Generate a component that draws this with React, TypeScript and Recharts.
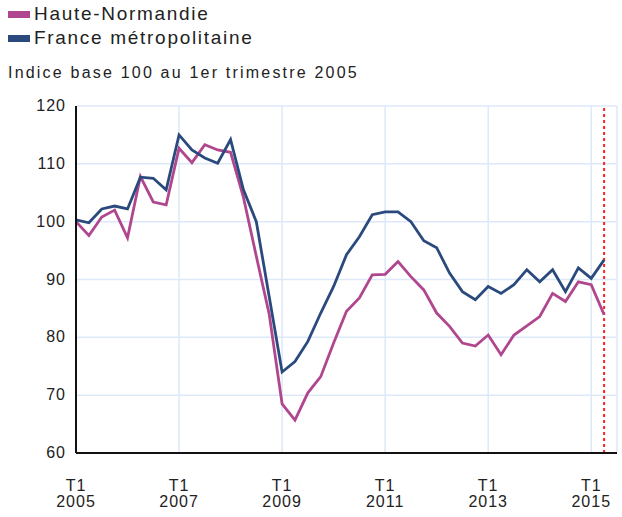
import React from "react";
import { LineChart, Line, XAxis, YAxis, CartesianGrid, ReferenceLine } from "recharts";

// quarterly index, base 100 at T1 2005 (T1 2005 .. T2 2015)
const hauteNormandie = [
  100, 97.6, 100.8, 102, 97.2, 107.8, 103.4, 102.9,
  112.7, 110.2, 113.3, 112.4, 112, 104.2, 94, 84,
  68.5, 65.7, 70.4, 73.2, 79, 84.5, 86.8, 90.8,
  90.9, 93.1, 90.5, 88.2, 84.2, 81.9, 79, 78.5,
  80.4, 77, 80.4, 82, 83.6, 87.6, 86.2, 89.6,
  89.1, 83.9,
];
const franceMetro = [
  100.3, 99.8, 102.2, 102.7, 102.2, 107.7, 107.5, 105.5,
  115, 112.4, 111, 110.1, 114.2, 105.5, 100, 87,
  74, 75.8, 79.3, 84.2, 88.8, 94.3, 97.4, 101.2,
  101.7, 101.7, 100, 96.7, 95.5, 91.1, 87.9, 86.5,
  88.8, 87.6, 89.1, 91.7, 89.6, 91.7, 87.9, 92,
  90.2, 93.4,
];
const tickYears = [2005, 2007, 2009, 2011, 2013, 2015];
const yTicks = [60, 70, 80, 90, 100, 110, 120];

const PINK = "#b0478e";
const BLUE = "#2a4a7e";
const FONT = "'Liberation Sans', Arial, sans-serif";

const data = hauteNormandie.map((v, i) => ({ q: i, hn: v, fr: franceMetro[i] }));
const xTicks = tickYears.map((y) => (y - 2005) * 4);

function XTick({ x, y, payload }: any) {
  const year = 2005 + payload.value / 4;
  return (
    <text x={x} y={y} textAnchor="middle" fontFamily={FONT} fontSize={16} fill="#222" style={{ letterSpacing: 1 }}>
      <tspan x={x} dy={36}>T1</tspan>
      <tspan x={x} dy={16}>{year}</tspan>
    </text>
  );
}

function YTick({ x, y, payload }: any) {
  return (
    <text x={x} y={y} dy={5} textAnchor="end" fontFamily={FONT} fontSize={16} fill="#222" style={{ letterSpacing: 1 }}>
      {payload.value}
    </text>
  );
}

export default function App() {
  return (
    <div style={{ position: "absolute", left: 0, top: 0, width: 622, height: 517, background: "#fff", fontFamily: FONT }}>
      <div style={{ position: "absolute", left: 8, top: 2, fontSize: 19, color: "#222", lineHeight: "24px", letterSpacing: 1.7 }}>
        <div style={{ display: "flex", alignItems: "center" }}>
          <span style={{ display: "inline-block", width: 22, height: 7, background: PINK, marginRight: 4 }} />
          Haute-Normandie
        </div>
        <div style={{ display: "flex", alignItems: "center" }}>
          <span style={{ display: "inline-block", width: 22, height: 7, background: BLUE, marginRight: 4 }} />
          France métropolitaine
        </div>
      </div>
      <div style={{ position: "absolute", left: 8, top: 64, fontSize: 16, color: "#222", letterSpacing: 2.2 }}>
        Indice base 100 au 1er trimestre 2005
      </div>
      <LineChart width={622} height={517} data={data} margin={{ top: 106, right: 5, bottom: 0, left: 0 }}>
        <CartesianGrid stroke="#dde9f8" strokeWidth={1.5} />
        <XAxis
          dataKey="q"
          type="number"
          domain={[0, 42]}
          ticks={xTicks}
          height={64}
          tickLine={false}
          tickSize={0}
          axisLine={{ stroke: "#111", strokeWidth: 2 }}
          tick={<XTick />}
        />
        <YAxis
          domain={[60, 120]}
          ticks={yTicks}
          width={76}
          tickLine={false}
          tickSize={0}
          tickMargin={10}
          axisLine={{ stroke: "#111", strokeWidth: 2 }}
          tick={<YTick />}
        />
        <ReferenceLine x={41} stroke="#ff2020" strokeWidth={2} strokeDasharray="3 3" />
        <Line dataKey="hn" stroke={PINK} strokeWidth={2.8} dot={false} isAnimationActive={false} />
        <Line dataKey="fr" stroke={BLUE} strokeWidth={2.8} dot={false} isAnimationActive={false} />
      </LineChart>
    </div>
  );
}
